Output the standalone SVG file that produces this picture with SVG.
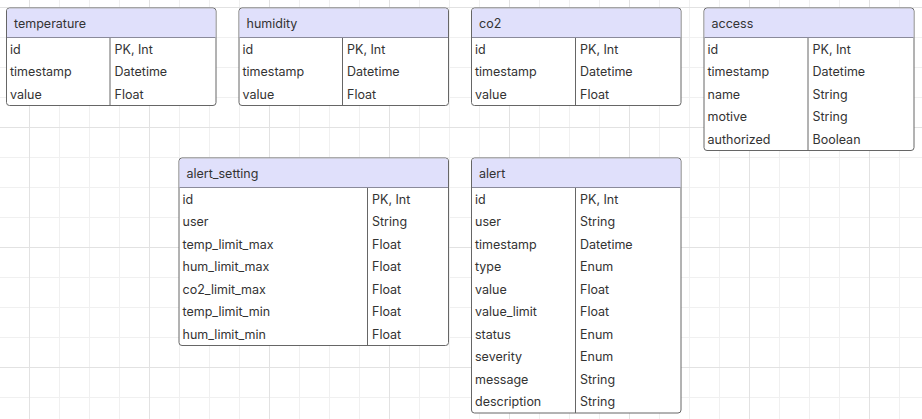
<svg xmlns="http://www.w3.org/2000/svg" width="922" height="419" viewBox="0 0 922 419">
<defs>
<pattern id="gMinor" patternUnits="userSpaceOnUse" x="29" y="7" width="30" height="30">
<path d="M0.5 0V30M0 0.5H30" stroke="#f0f0f0" stroke-width="1" fill="none"/>
</pattern>
<pattern id="gMajor" patternUnits="userSpaceOnUse" x="29" y="7" width="120" height="120">
<path d="M0.5 0V120M0 0.5H120" stroke="#e2e2e2" stroke-width="1" fill="none"/>
</pattern>
</defs>
<style>
.box{fill:#ffffff;stroke:#666666;stroke-width:1}
.hdr{fill:#e0e0fb}
.sep{stroke:#666666;stroke-width:1;fill:none}
.hsep{stroke:#8a8a9a;stroke-width:1;fill:none}
text{font-family:Inter,"Noto Sans","Liberation Sans",sans-serif;font-size:12.5px;fill:#333333;dominant-baseline:central}
.title{font-size:12.5px}
</style>
<rect width="922" height="419" fill="#ffffff"/>
<rect width="922" height="419" fill="url(#gMinor)"/>
<rect width="922" height="419" fill="url(#gMajor)"/>
<g id="connectors"></g>

<g id="temperature">
<rect class="box" x="6.5" y="8" width="209.5" height="97.5" rx="3"/>
<path class="hdr" d="M9.5 8.5H213A2.5 2.5 0 0 1 215.5 11V37.5H7V11A2.5 2.5 0 0 1 9.5 8.5Z"/>
<path class="hsep" d="M7 37.5H215.5"/>
<path class="sep" d="M110 38V105.5"/>
<text class="title" x="14" y="23">temperature</text>
<text x="10" y="49.25">id</text><text x="114.5" y="49.25">PK, Int</text>
<text x="10" y="71.75">timestamp</text><text x="114.5" y="71.75">Datetime</text>
<text x="10" y="94.25">value</text><text x="114.5" y="94.25">Float</text>
</g>

<g id="humidity">
<rect class="box" x="239" y="8" width="209.5" height="97.5" rx="3"/>
<path class="hdr" d="M242 8.5H445.5A2.5 2.5 0 0 1 448 11V37.5H239.5V11A2.5 2.5 0 0 1 242 8.5Z"/>
<path class="hsep" d="M239.5 37.5H448"/>
<path class="sep" d="M342.5 38V105.5"/>
<text class="title" x="246.5" y="23">humidity</text>
<text x="242.5" y="49.25">id</text><text x="347" y="49.25">PK, Int</text>
<text x="242.5" y="71.75">timestamp</text><text x="347" y="71.75">Datetime</text>
<text x="242.5" y="94.25">value</text><text x="347" y="94.25">Float</text>
</g>

<g id="co2">
<rect class="box" x="471.5" y="8" width="209.5" height="97.5" rx="3"/>
<path class="hdr" d="M474.5 8.5H678A2.5 2.5 0 0 1 680.5 11V37.5H472V11A2.5 2.5 0 0 1 474.5 8.5Z"/>
<path class="hsep" d="M472 37.5H680.5"/>
<path class="sep" d="M575.5 38V105.5"/>
<text class="title" x="479" y="23">co2</text>
<text x="475" y="49.25">id</text><text x="580" y="49.25">PK, Int</text>
<text x="475" y="71.75">timestamp</text><text x="580" y="71.75">Datetime</text>
<text x="475" y="94.25">value</text><text x="580" y="94.25">Float</text>
</g>

<g id="access">
<rect class="box" x="704" y="8" width="210" height="142.5" rx="3"/>
<path class="hdr" d="M707 8.5H911A2.5 2.5 0 0 1 913.5 11V37.5H704.5V11A2.5 2.5 0 0 1 707 8.5Z"/>
<path class="hsep" d="M704.5 37.5H913.5"/>
<path class="sep" d="M808 38V150.5"/>
<text class="title" x="711.5" y="23">access</text>
<text x="707.5" y="49.25">id</text><text x="812.5" y="49.25">PK, Int</text>
<text x="707.5" y="71.75">timestamp</text><text x="812.5" y="71.75">Datetime</text>
<text x="707.5" y="94.25">name</text><text x="812.5" y="94.25">String</text>
<text x="707.5" y="116.75">motive</text><text x="812.5" y="116.75">String</text>
<text x="707.5" y="139.25">authorized</text><text x="812.5" y="139.25">Boolean</text>
</g>

<g id="alert_setting">
<rect class="box" x="179" y="158" width="269.5" height="187.5" rx="3"/>
<path class="hdr" d="M182 158.5H445.5A2.5 2.5 0 0 1 448 161V187.5H179.5V161A2.5 2.5 0 0 1 182 158.5Z"/>
<path class="hsep" d="M179.5 187.5H448"/>
<path class="sep" d="M367.5 188V345.5"/>
<text class="title" x="186.5" y="173">alert_setting</text>
<text x="182.5" y="199.25">id</text><text x="372" y="199.25">PK, Int</text>
<text x="182.5" y="221.75">user</text><text x="372" y="221.75">String</text>
<text x="182.5" y="244.25">temp_limit_max</text><text x="372" y="244.25">Float</text>
<text x="182.5" y="266.75">hum_limit_max</text><text x="372" y="266.75">Float</text>
<text x="182.5" y="289.25">co2_limit_max</text><text x="372" y="289.25">Float</text>
<text x="182.5" y="311.75">temp_limit_min</text><text x="372" y="311.75">Float</text>
<text x="182.5" y="334.25">hum_limit_min</text><text x="372" y="334.25">Float</text>
</g>

<g id="alert">
<rect class="box" x="471.5" y="158" width="209.5" height="255" rx="3"/>
<path class="hdr" d="M474.5 158.5H678A2.5 2.5 0 0 1 680.5 161V187.5H472V161A2.5 2.5 0 0 1 474.5 158.5Z"/>
<path class="hsep" d="M472 187.5H680.5"/>
<path class="sep" d="M575.5 188V413"/>
<text class="title" x="479" y="173">alert</text>
<text x="475" y="199.25">id</text><text x="580" y="199.25">PK, Int</text>
<text x="475" y="221.75">user</text><text x="580" y="221.75">String</text>
<text x="475" y="244.25">timestamp</text><text x="580" y="244.25">Datetime</text>
<text x="475" y="266.75">type</text><text x="580" y="266.75">Enum</text>
<text x="475" y="289.25">value</text><text x="580" y="289.25">Float</text>
<text x="475" y="311.75">value_limit</text><text x="580" y="311.75">Float</text>
<text x="475" y="334.25">status</text><text x="580" y="334.25">Enum</text>
<text x="475" y="356.75">severity</text><text x="580" y="356.75">Enum</text>
<text x="475" y="379.25">message</text><text x="580" y="379.25">String</text>
<text x="475" y="401.75">description</text><text x="580" y="401.75">String</text>
</g>
</svg>
